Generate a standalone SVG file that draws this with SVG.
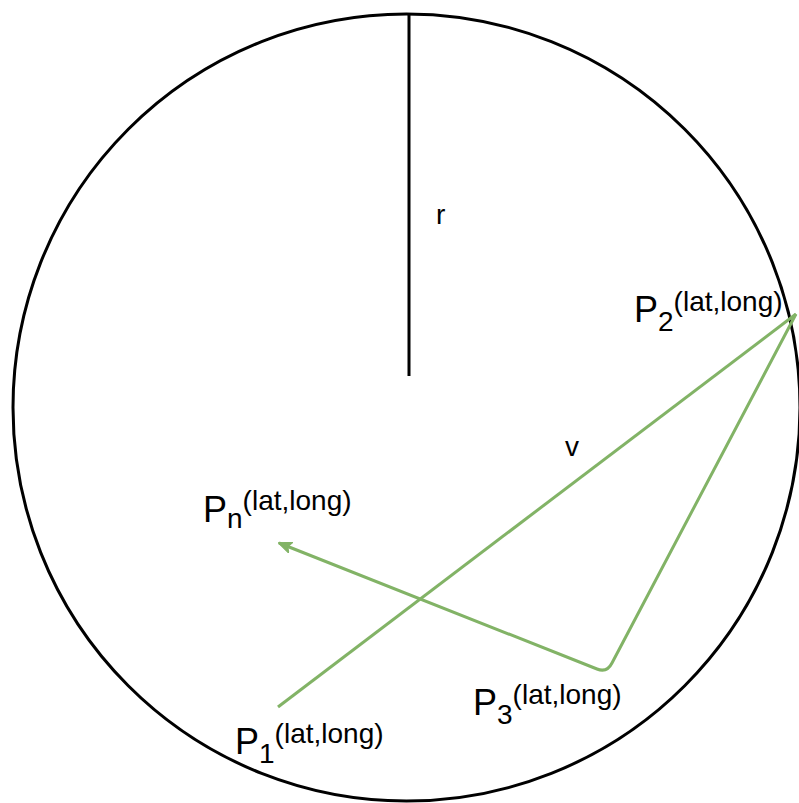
<svg xmlns="http://www.w3.org/2000/svg" width="799" height="803" viewBox="0 0 799 803">
<style>
.t{font-family:"Liberation Sans",Arial,sans-serif;fill:#000}
.big{font-size:36px}
.sm{font-size:28px}
.g{fill:none;stroke:#82b366;stroke-width:3}
</style>
<defs>
<marker id="ah" markerWidth="14" markerHeight="12" refX="13" refY="6" orient="auto" markerUnits="userSpaceOnUse" viewBox="0 0 14 12">
<path d="M0,0 L14,6 L0,12 L3.5,6 Z" fill="#82b366" stroke="#82b366"/>
</marker>
</defs>
<rect width="799" height="803" fill="#fff"/>
<g id="sphere">
<circle cx="406.5" cy="407.5" r="393.5" fill="none" stroke="#000" stroke-width="3"/>
</g>
<g id="radius">
<line x1="409" y1="13" x2="409" y2="376" stroke="#000" stroke-width="3"/>
<text class="t" x="436" y="224" font-size="28px">r</text>
</g>
<g id="connectors">
<line class="g" x1="278" y1="707" x2="796" y2="314"/>
<path class="g" d="M796,314 L612,663 Q607,673 597,669 L279,543" marker-end="url(#ah)"/>
<text class="t" x="565" y="456" font-size="28px">v</text>
</g>
<g id="p2">
<text class="t big" x="634" y="322">P<tspan class="sm" dy="9">2</tspan><tspan class="sm" dy="-20">(lat,long)</tspan></text>
</g>
<g id="pn">
<text class="t big" x="203" y="522">P<tspan class="sm" dy="6">n</tspan><tspan class="sm" dy="-18">(lat,long)</tspan></text>
</g>
<g id="p3">
<text class="t big" x="473" y="715">P<tspan class="sm" dy="9">3</tspan><tspan class="sm" dy="-20">(lat,long)</tspan></text>
</g>
<g id="p1">
<text class="t big" x="235" y="754">P<tspan class="sm" dy="9">1</tspan><tspan class="sm" dy="-20">(lat,long)</tspan></text>
</g>
</svg>
